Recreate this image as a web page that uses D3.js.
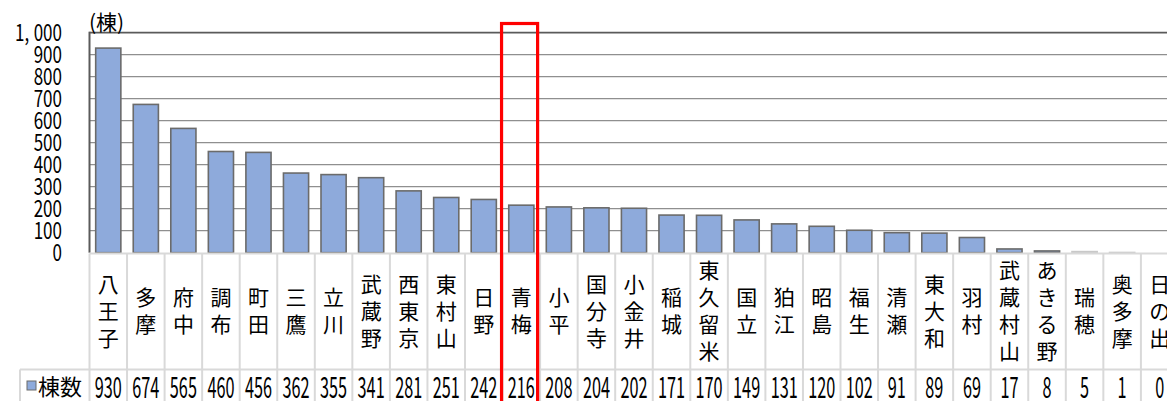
<!DOCTYPE html>
<html><head><meta charset="utf-8">
<script src="https://cdn.jsdelivr.net/npm/d3@7"></script>
<style>body{margin:0;background:#fff;overflow:hidden}svg{display:block}</style>
</head><body>
<svg id="c" width="1167" height="401"></svg>
<script>
const categories = ["八王子","多摩","府中","調布","町田","三鷹","立川","武蔵野","西東京","東村山","日野","青梅","小平","国分寺","小金井","稲城","東久留米","国立","狛江","昭島","福生","清瀬","東大和","羽村","武蔵村山","あきる野","瑞穂","奥多摩","日の出"];
const values = [930,674,565,460,456,362,355,341,281,251,242,216,208,204,202,171,170,149,131,120,102,91,89,69,17,8,5,1,0];
const yTicks = [0,100,200,300,400,500,600,700,800,900,1000];
const seriesName = "棟数";
const unitLabel = "(棟)";
const highlight = "青梅";

const svg = d3.select("#c");
const JP = "'Noto Sans CJK JP','Noto Sans',sans-serif";
const plotLeft = 89.5, step = 37.55;
const plotRight = plotLeft + step * categories.length;
const plotTop = 32.7, zero = 252.7;

const xCell = d3.scaleBand().domain(categories).range([plotLeft, plotRight]).padding(0);
const xBar = d3.scaleBand().domain(categories).range([plotLeft, plotRight]).paddingInner(0.33).paddingOuter(0.165);
const y = d3.scaleLinear().domain([0, 1000]).range([zero, plotTop]);

// gridlines
svg.append("g").selectAll("line").data(yTicks.filter(t => t > 0)).join("line")
  .attr("x1", plotLeft).attr("x2", 1167)
  .attr("y1", d => y(d)).attr("y2", d => y(d))
  .attr("stroke", d => d === 1000 ? "#5a5a5a" : "#8f8f8f")
  .attr("stroke-width", d => d === 1000 ? 1.8 : 1.2);

// y tick labels
const fmt = d3.format(",");
const yAxis = d3.axisLeft(y).tickValues(yTicks).tickSize(0).tickPadding(0).tickFormat(fmt);
const ya = svg.append("g").attr("transform", `translate(62,0)`).call(yAxis);
ya.select(".domain").remove();
ya.selectAll(".tick").attr("transform", null);
ya.selectAll(".tick text").attr("font-family", JP).attr("font-size", 23).attr("fill", "#000")
  .attr("dy", "0.36em").attr("x", 0).attr("y", 0)
  .attr("transform", d => `translate(0,${y(d)}) scale(0.74,1)`)
  .each(function(d) {
    const s = fmt(d);
    const t = d3.select(this);
    if (s.includes(",")) {
      const parts = s.split(",");
      t.text(null);
      t.append("tspan").text(parts[0] + ",");
      t.append("tspan").attr("dx", 6).text(parts[1]);
    }
  });

// bars
svg.append("g").selectAll("rect").data(values).join("rect")
  .attr("x", (d, i) => xBar(categories[i]))
  .attr("width", xBar.bandwidth())
  .attr("y", d => y(d))
  .attr("height", d => zero - y(d))
  .attr("fill", "#8eaadb")
  .attr("stroke", (d) => d > 6 ? "#6b6b6b" : "#c8c8c8")
  .attr("stroke-width", 1.6);

// y axis line
svg.append("line").attr("x1", plotLeft).attr("x2", plotLeft).attr("y1", plotTop - 1).attr("y2", zero)
  .attr("stroke", "#5a5a5a").attr("stroke-width", 2);

// unit label
svg.append("text").attr("x", 89).attr("y", 30).attr("font-family", JP).attr("font-size", 21)
  .attr("fill", "#000").text(unitLabel);

// data table
const tableTop = 253.5, rowSplit = 369.5, tableBottom = 420;
const grid = svg.append("g").attr("stroke", "#d9d9d9").attr("stroke-width", 2);
grid.append("line").attr("x1", plotLeft).attr("x2", 1167).attr("y1", tableTop).attr("y2", tableTop);
grid.append("line").attr("x1", 20).attr("x2", 1167).attr("y1", rowSplit).attr("y2", rowSplit);
grid.append("line").attr("x1", 20).attr("x2", 20).attr("y1", rowSplit).attr("y2", tableBottom);
grid.selectAll(".v").data(categories.concat(["__end"])).join("line")
  .attr("x1", (d, i) => plotLeft + i * xCell.step()).attr("x2", (d, i) => plotLeft + i * xCell.step())
  .attr("y1", tableTop).attr("y2", tableBottom);

// category names (vertical)
const nameCenter = 311, lineStep = 27;
const names = svg.append("g").attr("font-family", JP).attr("font-size", 21).attr("fill", "#000")
  .attr("text-anchor", "middle");
categories.forEach(c => {
  const chars = Array.from(c);
  const cx = xCell(c) + xCell.bandwidth() / 2;
  chars.forEach((ch, j) => {
    const cy = nameCenter + (j - (chars.length - 1) / 2) * lineStep;
    names.append("text").attr("x", cx).attr("y", cy).attr("dy", "0.36em").text(ch);
  });
});

// values row
const vals = svg.append("g").attr("font-family", JP).attr("font-size", 29).attr("fill", "#000")
  .attr("text-anchor", "middle");
values.forEach((v, i) => {
  const cx = xCell(categories[i]) + xCell.bandwidth() / 2;
  vals.append("text").attr("transform", `translate(${cx},398) scale(0.56,1)`).text(v);
});

// legend cell
svg.append("rect").attr("x", 27).attr("y", 381).attr("width", 9).attr("height", 9)
  .attr("fill", "#8eaadb").attr("stroke", "#6b6b6b").attr("stroke-width", 1);
svg.append("text").attr("x", 38).attr("y", 395).attr("font-family", JP).attr("font-size", 22)
  .attr("fill", "#000").text(seriesName);

// highlight box
const hx = xCell(highlight);
svg.append("rect").attr("x", hx - 1).attr("y", 23.5).attr("width", xCell.step() - 1.5).attr("height", 420)
  .attr("fill", "none").attr("stroke", "#ff0000").attr("stroke-width", 3.2);
</script>
</body></html>
